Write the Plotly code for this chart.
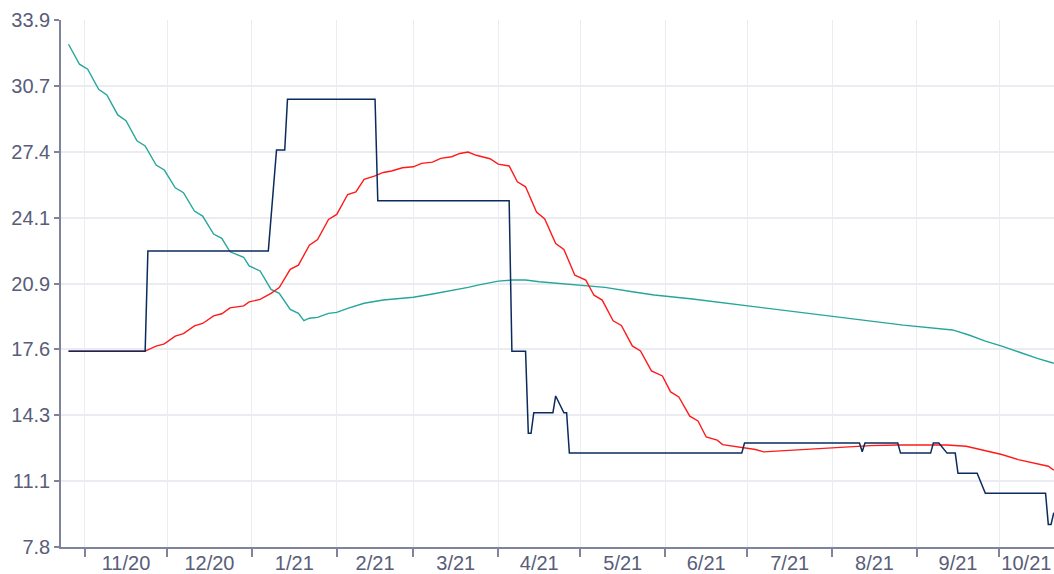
import plotly.graph_objects as go

# ---------------- data ----------------
navy_dates = ["2020-10-26", "2020-11-23", "2020-11-24", "2021-01-07", "2021-01-10", "2021-01-13",
              "2021-01-14", "2021-02-15", "2021-02-16", "2021-04-05", "2021-04-06", "2021-04-11",
              "2021-04-12", "2021-04-13", "2021-04-14", "2021-04-21", "2021-04-22", "2021-04-25",
              "2021-04-26", "2021-04-27", "2021-06-29", "2021-06-30", "2021-08-11", "2021-08-12",
              "2021-08-13", "2021-08-25", "2021-08-26", "2021-09-06", "2021-09-07", "2021-09-09",
              "2021-09-12", "2021-09-15", "2021-09-16", "2021-09-23", "2021-09-26", "2021-10-18",
              "2021-10-19", "2021-10-20", "2021-10-21"]
navy_values = [17.5, 17.5, 22.46, 22.46, 27.46, 27.46,
               29.97, 29.97, 24.95, 24.95, 17.5, 17.5,
               13.43, 13.43, 14.45, 14.45, 15.28, 14.45,
               14.45, 12.45, 12.45, 12.95, 12.95, 12.52,
               12.95, 12.95, 12.45, 12.45, 12.95, 12.95,
               12.45, 12.45, 11.45, 11.45, 10.46, 10.46,
               8.92, 8.92, 9.5]

red_dates = ["2020-10-26", "2020-11-23", "2020-11-27", "2020-11-30", "2020-12-04", "2020-12-07",
             "2020-12-11", "2020-12-14", "2020-12-18", "2020-12-21", "2020-12-24", "2020-12-29",
             "2020-12-31", "2021-01-04", "2021-01-08", "2021-01-11", "2021-01-15", "2021-01-18",
             "2021-01-22", "2021-01-25", "2021-01-29", "2021-02-01", "2021-02-05", "2021-02-08",
             "2021-02-11", "2021-02-15", "2021-02-18", "2021-02-21", "2021-02-25", "2021-03-01",
             "2021-03-04", "2021-03-08", "2021-03-11", "2021-03-15", "2021-03-18", "2021-03-21",
             "2021-03-24", "2021-03-29", "2021-04-01", "2021-04-05", "2021-04-08", "2021-04-11",
             "2021-04-15", "2021-04-18", "2021-04-22", "2021-04-25", "2021-04-29", "2021-05-03",
             "2021-05-06", "2021-05-09", "2021-05-13", "2021-05-16", "2021-05-20", "2021-05-23",
             "2021-05-27", "2021-05-31", "2021-06-03", "2021-06-06", "2021-06-10", "2021-06-13",
             "2021-06-16", "2021-06-20", "2021-06-22", "2021-06-28", "2021-07-04", "2021-07-07",
             "2021-07-18", "2021-08-01", "2021-08-15", "2021-08-25", "2021-09-12", "2021-09-19",
             "2021-09-25", "2021-10-02", "2021-10-08", "2021-10-16", "2021-10-19", "2021-10-21"]
red_values = [17.5, 17.5, 17.75, 17.86, 18.24, 18.37,
              18.75, 18.87, 19.25, 19.35, 19.64, 19.74,
              19.94, 20.06, 20.36, 20.65, 21.55, 21.76,
              22.75, 23.03, 24.02, 24.27, 25.26, 25.39,
              26.01, 26.18, 26.35, 26.42, 26.58, 26.63,
              26.80, 26.86, 27.05, 27.13, 27.29, 27.36,
              27.20, 27.03, 26.76, 26.67, 25.89, 25.64,
              24.39, 24.05, 22.83, 22.54, 21.26, 21.02,
              20.27, 20.03, 19.00, 18.77, 17.76, 17.51,
              16.52, 16.27, 15.48, 15.23, 14.28, 14.04,
              13.25, 13.09, 12.87, 12.76, 12.63, 12.51,
              12.59, 12.71, 12.82, 12.85, 12.85, 12.79,
              12.59, 12.38, 12.13, 11.88, 11.80, 11.60]

teal_dates = ["2020-10-26", "2020-10-30", "2020-11-02", "2020-11-06", "2020-11-09", "2020-11-13",
              "2020-11-16", "2020-11-20", "2020-11-23", "2020-11-27", "2020-11-30", "2020-12-04",
              "2020-12-07", "2020-12-11", "2020-12-14", "2020-12-18", "2020-12-21", "2020-12-24",
              "2020-12-29", "2020-12-31", "2021-01-04", "2021-01-08", "2021-01-11", "2021-01-15",
              "2021-01-18", "2021-01-20", "2021-01-22", "2021-01-25", "2021-01-29", "2021-02-01",
              "2021-02-05", "2021-02-08", "2021-02-11", "2021-02-18", "2021-03-01", "2021-03-08",
              "2021-03-15", "2021-03-21", "2021-03-25", "2021-04-01", "2021-04-06", "2021-04-11",
              "2021-04-16", "2021-04-23", "2021-04-30", "2021-05-10", "2021-05-20", "2021-05-28",
              "2021-06-11", "2021-07-01", "2021-07-16", "2021-08-01", "2021-08-15", "2021-08-27",
              "2021-09-14", "2021-09-20", "2021-09-26", "2021-10-02", "2021-10-09", "2021-10-15",
              "2021-10-21"]
teal_values = [32.70, 31.71, 31.46, 30.47, 30.19, 29.20,
               28.91, 27.92, 27.66, 26.72, 26.47, 25.59,
               25.35, 24.44, 24.19, 23.30, 23.09, 22.42,
               22.15, 21.72, 21.47, 20.56, 20.36, 19.57,
               19.37, 19.01, 19.13, 19.17, 19.37, 19.42,
               19.62, 19.73, 19.87, 20.03, 20.17, 20.33,
               20.49, 20.66, 20.78, 20.97, 21.02, 21.02,
               20.94, 20.86, 20.76, 20.66, 20.44, 20.28,
               20.08, 19.75, 19.49, 19.25, 19.01, 18.79,
               18.55, 18.30, 18.00, 17.75, 17.42, 17.14,
               16.90]

month_starts = ["2020-11-01", "2020-12-01", "2021-01-01", "2021-02-01", "2021-03-01", "2021-04-01",
                "2021-05-01", "2021-06-01", "2021-07-01", "2021-08-01", "2021-09-01", "2021-10-01"]
label_pos = ["2020-11-16", "2020-12-16 12:00", "2021-01-16 12:00", "2021-02-15", "2021-03-16 12:00",
             "2021-04-16", "2021-05-16 12:00", "2021-06-16", "2021-07-16 12:00", "2021-08-16 12:00",
             "2021-09-16", "2021-10-11"]
x_labels = ["11/20", "12/20", "1/21", "2/21", "3/21", "4/21", "5/21", "6/21", "7/21", "8/21", "9/21", "10/21"]

y_min, y_max = 7.8, 33.9
y_ticks = [y_min + (y_max - y_min) * k / 8 for k in range(9)]
y_labels = ["7.8", "11.1", "14.3", "17.6", "20.9", "24.1", "27.4", "30.7", "33.9"]

x_range = ["2020-10-23 06:00", "2021-10-21 02:00"]

# ---------------- figure ----------------
TEXT_COLOR = "#585d79"
AXIS_COLOR = "#7f849c"
GRID_COLOR = "#ebebf2"
FONT = "Liberation Sans, Arial, sans-serif"

fig = go.Figure()
fig.add_trace(go.Scatter(x=teal_dates, y=teal_values, mode="lines",
                         line=dict(color="#26a69a", width=1.4), showlegend=False))
fig.add_trace(go.Scatter(x=red_dates, y=red_values, mode="lines",
                         line=dict(color="#ff1a1a", width=1.4), showlegend=False))
fig.add_trace(go.Scatter(x=navy_dates, y=navy_values, mode="lines",
                         line=dict(color="#0b2b5e", width=1.5), showlegend=False))
# invisible trace to carry the label axis
fig.add_trace(go.Scatter(x=[x_range[0]], y=[y_min], xaxis="x2", mode="markers",
                         marker=dict(opacity=0), showlegend=False, hoverinfo="skip"))

fig.update_layout(
    width=1054, height=574,
    margin=dict(l=61, r=0, t=20, b=27),
    paper_bgcolor="white", plot_bgcolor="white",
    font=dict(family=FONT, color=TEXT_COLOR, size=20),
    xaxis=dict(
        type="date", range=x_range,
        tickmode="array", tickvals=month_starts, showticklabels=False,
        ticks="outside", ticklen=8, tickwidth=1.5, tickcolor=AXIS_COLOR,
        showgrid=True, gridcolor=GRID_COLOR, gridwidth=1,
        showline=True, linecolor=AXIS_COLOR, linewidth=1.5,
        zeroline=False,
    ),
    xaxis2=dict(
        type="date", range=x_range, overlaying="x", side="bottom", anchor="y",
        tickmode="array", tickvals=label_pos, ticktext=x_labels,
        ticks="", showgrid=False, showline=False, zeroline=False,
        tickfont=dict(family=FONT, color=TEXT_COLOR, size=20),
        ticklabelstandoff=2,
    ),
    yaxis=dict(
        range=[y_min, y_max],
        tickmode="array", tickvals=y_ticks, ticktext=y_labels,
        ticks="outside", ticklen=5, tickwidth=1.5, tickcolor=AXIS_COLOR,
        showgrid=True, gridcolor=GRID_COLOR, gridwidth=1.5,
        showline=True, linecolor=AXIS_COLOR, linewidth=1.5,
        zeroline=False,
        tickfont=dict(family=FONT, color=TEXT_COLOR, size=20),
    ),
)

fig.write_html("out.html", config={"displayModeBar": False},
               post_script="document.body.style.margin='0';")
